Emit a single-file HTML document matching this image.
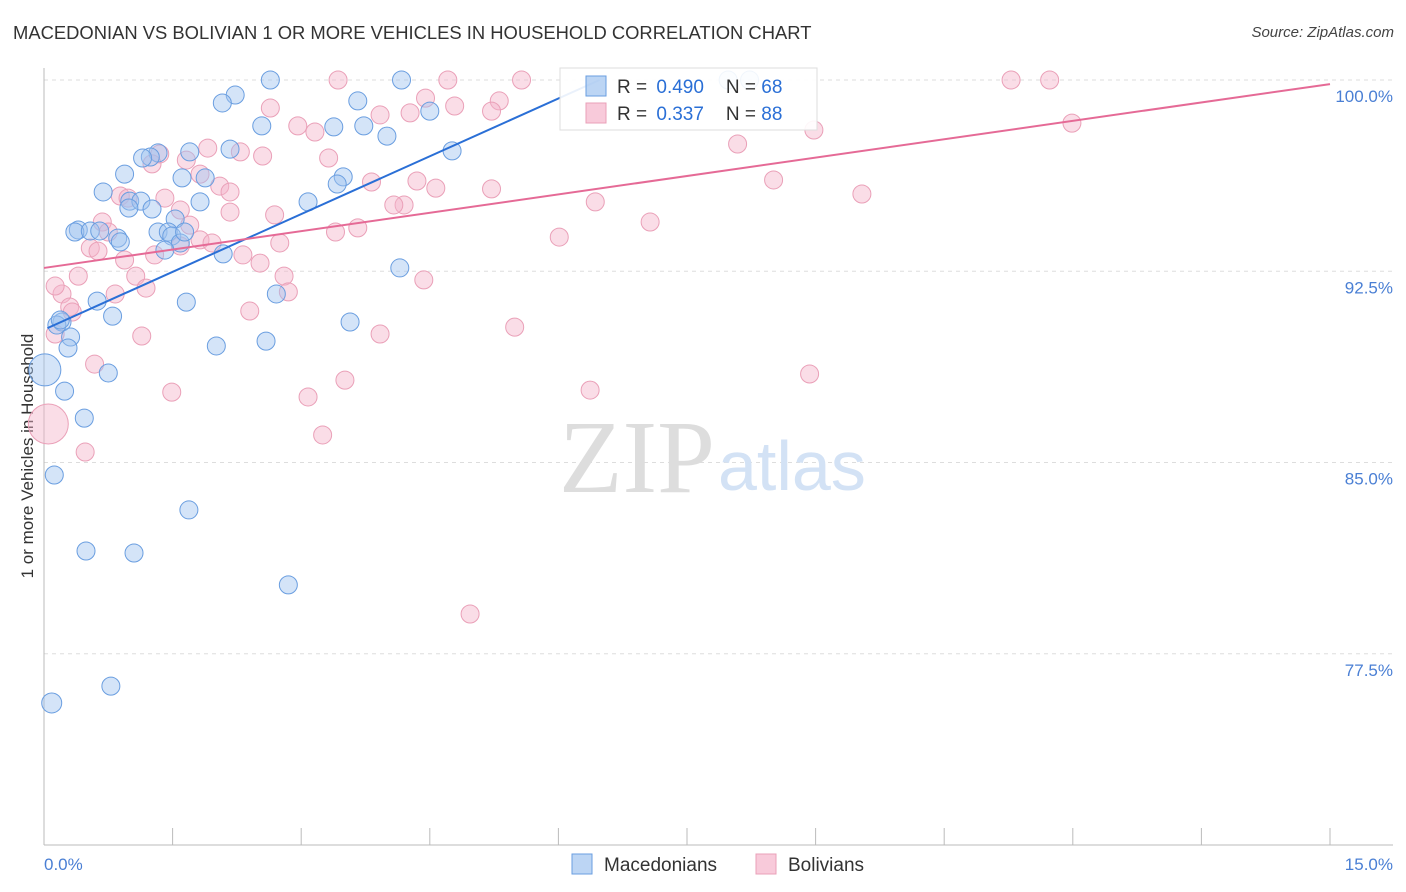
<!DOCTYPE html>
<html><head><meta charset="utf-8">
<style>
body{margin:0;background:#fff;font-family:"Liberation Sans",sans-serif;}
#wrap{position:relative;width:1406px;height:892px;overflow:hidden;}
.title{position:absolute;left:13px;top:22px;font-size:18.4px;color:#333;letter-spacing:0px}
.source{position:absolute;right:12px;top:24px;font-size:15px;color:#444;font-style:italic}
</style></head><body>
<div id="wrap">
<div class="title">MACEDONIAN VS BOLIVIAN 1 OR MORE VEHICLES IN HOUSEHOLD CORRELATION CHART</div>
<div class="source">Source: ZipAtlas.com</div>
<svg id="svg" width="1406" height="892" style="position:absolute;left:0;top:0"></svg>
</div>
<script>
const blueX=[2.64,4.17,7.98,8.23,2.23,2.08,3.66,4.50,2.54,3.38,3.73,4.00,4.76,2.17,1.70,1.33,1.24,1.15,0.94,1.61,1.88,3.49,3.42,0.69,1.00,1.13,1.26,0.99,1.82,3.08,1.53,0.40,0.36,0.54,0.65,0.86,0.89,1.33,1.45,1.49,1.59,1.41,2.09,4.15,2.71,0.62,1.66,0.80,0.21,0.15,0.31,3.57,2.59,2.01,0.28,0.75,0.01,0.24,0.47,0.12,1.69,0.49,1.05,2.85,0.78,0.09,0.19,1.64];
const blueY=[100,100,100,100,99.41,99.10,99.18,98.78,98.20,98.16,98.20,97.80,97.22,97.29,97.18,97.14,96.98,96.94,96.31,96.16,96.16,96.20,95.92,95.61,95.25,95.25,94.94,94.98,95.22,95.22,94.55,94.12,94.04,94.08,94.08,93.80,93.65,94.04,94.04,93.88,93.61,93.33,93.18,92.63,91.61,91.33,91.29,90.74,90.51,90.39,89.92,90.51,89.76,89.57,89.49,88.51,88.63,87.80,86.74,84.51,83.14,81.53,81.45,80.20,76.23,75.57,90.59,94.04];
const pinkX=[3.43,4.71,5.57,11.28,11.73,2.64,4.45,4.79,5.31,4.27,5.22,3.92,2.96,3.16,8.98,11.99,1.91,2.29,2.55,3.32,1.35,1.66,8.09,1.26,1.82,3.82,4.35,4.57,5.22,2.05,2.17,0.89,1.41,0.98,1.59,2.17,2.69,4.20,4.08,3.66,3.40,1.70,0.68,0.75,6.43,7.07,6.01,8.51,9.54,1.82,1.96,0.54,0.63,1.59,2.75,2.32,1.29,0.94,2.52,0.40,1.07,2.80,1.19,2.85,4.43,0.83,0.21,0.13,0.30,0.33,2.40,5.49,3.92,1.14,0.13,0.59,3.51,8.93,6.37,1.49,3.08,3.25,0.48,4.97,0.05];
const pinkY=[100,100,100,100,100,98.90,99.29,98.98,99.18,98.71,98.78,98.63,98.20,97.96,98.04,98.31,97.33,97.18,97.02,96.94,97.10,96.86,97.49,96.71,96.31,96.00,96.04,95.76,95.73,95.84,95.61,95.45,95.37,95.37,94.90,94.82,94.71,95.10,95.10,94.20,94.04,94.31,94.43,94.04,95.22,94.43,93.84,96.08,95.53,93.73,93.61,93.41,93.29,93.49,93.61,93.14,93.14,92.94,92.82,92.31,92.31,92.31,91.84,91.69,92.16,91.61,91.61,91.92,91.10,90.90,90.94,90.31,90.04,89.96,90.04,88.86,88.23,88.47,87.84,87.76,87.57,86.08,85.41,79.06,86.51];
const blueLine=[[0.04,90.27],[6.48,100]];
const pinkLine=[[0,92.63],[15,99.84]];
const yTicks=[100,92.5,85,77.5];
const yTickLabels=["100.0%","92.5%","85.0%","77.5%"];

const svg=document.getElementById('svg');
const NS="http://www.w3.org/2000/svg";
const X=v=>44+v/15*1286;
const Y=v=>80+(100-v)/7.5*191.25;
function el(t,a){const e=document.createElementNS(NS,t);for(const k in a)e.setAttribute(k,a[k]);svg.appendChild(e);return e;}

yTicks.forEach((t,i)=>{
 const g=el('line',{x1:44,x2:1393,y1:Y(t),y2:Y(t),stroke:'#ddd','stroke-dasharray':'4,4'});
 
 
 const tx=el('text',{x:1393,y:Y(t)+22,'text-anchor':'end','font-size':17,fill:'#4a7fd4'});
 tx.textContent=yTickLabels[i];
 
 
});
const ax=el('line',{x1:44,x2:1393,y1:845,y2:845,stroke:'#bbb'});


const ay=el('line',{x1:44,x2:44,y1:68,y2:845,stroke:'#bbb'});


for(let i=1;i<=10;i++){
 const t=el('line',{x1:X(i*1.5),x2:X(i*1.5),y1:828,y2:845,stroke:'#bbb'});
 
 
}
[["0.0%",44,'start'],["15.0%",1393,'end']].forEach(d=>{
 const t=el('text',{x:d[1],y:870,'text-anchor':d[2],'font-size':17,fill:'#4a7fd4'});
 t.textContent=d[0];
 
 
});
const yt=el('text',{x:0,y:0,transform:'translate(33,456) rotate(-90)','text-anchor':'middle','font-size':17,fill:'#333'});
yt.textContent='1 or more Vehicles in Household';



const w1=el('text',{x:715,y:492,'text-anchor':'end','font-size':104,fill:'#ddd','font-family':'Liberation Serif,serif'});
w1.textContent='ZIP';


const w2=el('text',{x:718,y:490,'font-size':70,fill:'#d3e2f5','font-family':'Liberation Sans,sans-serif'});
w2.textContent='atlas';



pinkX.forEach((x,i)=>{
 const r=(i===pinkX.length-1)?20:9;
 const c=el('circle',{cx:X(x),cy:Y(pinkY[i]),r:r,fill:'rgba(245,180,202,0.45)',stroke:'#eaa0b8','stroke-width':1});
 
 
});
blueX.forEach((x,i)=>{
 const r=(i===56)?16:(i===65?10:9);
 const c=el('circle',{cx:X(x),cy:Y(blueY[i]),r:r,fill:'rgba(160,195,240,0.45)',stroke:'#6a9ee0','stroke-width':1});
 
 
});
const bl=el('line',{x1:X(blueLine[0][0]),y1:Y(blueLine[0][1]),x2:X(blueLine[1][0]),y2:Y(blueLine[1][1]),stroke:'#2a6fd6','stroke-width':2});


const pl=el('line',{x1:X(pinkLine[0][0]),y1:Y(pinkLine[0][1]),x2:X(pinkLine[1][0]),y2:Y(pinkLine[1][1]),stroke:'#e56a96','stroke-width':2});



const lb=el('rect',{x:560,y:68,width:257,height:62,fill:'rgba(255,255,255,0.9)',stroke:'#ddd'});


[["0.490","68",'rgba(160,195,240,0.7)','#6a9ee0',86],["0.337","88",'rgba(245,180,202,0.7)','#eaa0b8',113]].forEach((d,i)=>{
 const s=el('rect',{x:586,y:d[4]-10,width:20,height:20,fill:d[2],stroke:d[3]});
 
 
 const t=el('text',{x:617,y:d[4]+7,'font-size':19,fill:'#333'});
 t.innerHTML='R = <tspan fill="#2a6fd6" dx="4">'+d[0]+'</tspan><tspan dx="22">N = </tspan><tspan fill="#2a6fd6">'+d[1]+'</tspan>';
 
 
});
[["Macedonians",572,'rgba(160,195,240,0.7)','#6a9ee0'],["Bolivians",756,'rgba(245,180,202,0.7)','#eaa0b8']].forEach(d=>{
 const s=el('rect',{x:d[1],y:854,width:20,height:20,fill:d[2],stroke:d[3]});
 
 
 const t=el('text',{x:d[1]+32,y:871,'font-size':19,fill:'#333'});
 t.textContent=d[0];
 
 
});
</script>
</body></html>
